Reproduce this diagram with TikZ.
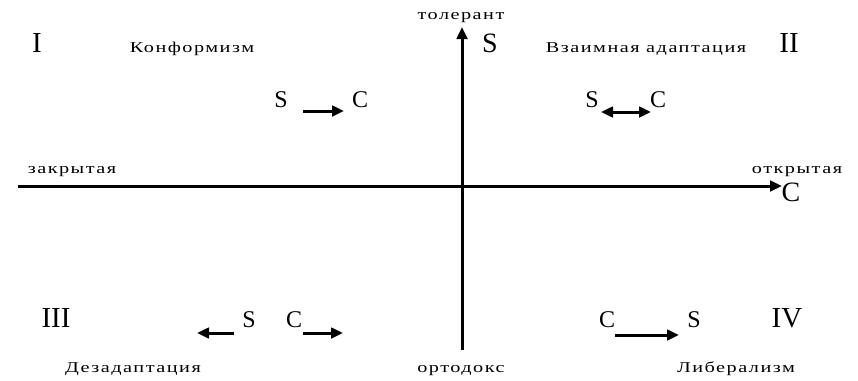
\documentclass[tikz,border=0pt]{standalone}
\usepackage{fontspec}
\setmainfont{Liberation Serif}
\newfontfamily\spacedfont[FakeStretch=1.35,LetterSpace=10]{Liberation Serif}
\usetikzlibrary{arrows.meta}

\begin{document}
\begin{tikzpicture}[x=1pt,y=-1pt,>={Triangle[length=12pt,width=10.5pt]},
  every node/.style={inner sep=0pt,anchor=base},
  label/.style={font=\spacedfont\fontsize{15}{17}\selectfont},
  letter/.style={font=\fontsize{24}{26}\selectfont},
  bigletter/.style={font=\fontsize{28}{30}\selectfont},
  quadrant/.style={font=\fontsize{29}{31}\selectfont},
  axis/.style={line width=3pt,->},
  arr/.style={line width=3pt,->}]
  \useasboundingbox (0,0) rectangle (858,380);
  % axes
  \coordinate (xl) at (18,186);
  \coordinate (xr) at (782,186);
  \coordinate (yb) at (462,350);
  \coordinate (yt) at (462,27);
  \draw[axis] (xl)--(xr);
  \draw[axis] (yb)--(yt);
  \node[bigletter] (sax) at (490,52) {S};
  \node[bigletter] (cax) at (791,201) {C};
  \node[label] (tol) at (461,19) {толерант};
  \node[label] (orth) at (461,372) {ортодокс};
  \node[label] (closed) at (72,173) {закрытая};
  \node[label] (open) at (797,173) {открытая};
  % quadrant I
  \node[quadrant] (q1) at (37,52) {I};
  \node[label] (conf) at (192,52) {Конформизм};
  \node[letter] (s1) at (281,107) {S};
  \node[letter] (c1) at (360,107) {C};
  \coordinate (a1) at (303,111);
  \coordinate (b1) at (344,111);
  \draw[arr] (a1)--(b1);
  % quadrant II
  \node[quadrant] (q2) at (789,52) {II};
  \node[label] (mutual) at (646,52) {Взаимная адаптация};
  \node[letter] (s2) at (592,107) {S};
  \node[letter] (c2) at (658,107) {C};
  \coordinate (a2) at (601,112);
  \coordinate (b2) at (651,112);
  \draw[arr,<->] (a2)--(b2);
  % quadrant III
  \node[quadrant] (q3) at (56,327) {III};
  \node[label] (desad) at (133,372) {Дезадаптация};
  \node[letter] (s3) at (249,327) {S};
  \node[letter] (c3) at (294,327) {C};
  \coordinate (a3) at (234,333);
  \coordinate (b3) at (197,333);
  \coordinate (a4) at (303,333);
  \coordinate (b4) at (343,333);
  \draw[arr] (a3)--(b3);
  \draw[arr] (a4)--(b4);
  % quadrant IV
  \node[quadrant] (q4) at (787,327) {IV};
  \node[label] (lib) at (736,372) {Либерализм};
  \node[letter] (c5) at (607,327) {C};
  \node[letter] (s5) at (694,327) {S};
  \coordinate (a5) at (615,335);
  \coordinate (b5) at (679,335);
  \draw[arr] (a5)--(b5);
\end{tikzpicture}
\end{document}
